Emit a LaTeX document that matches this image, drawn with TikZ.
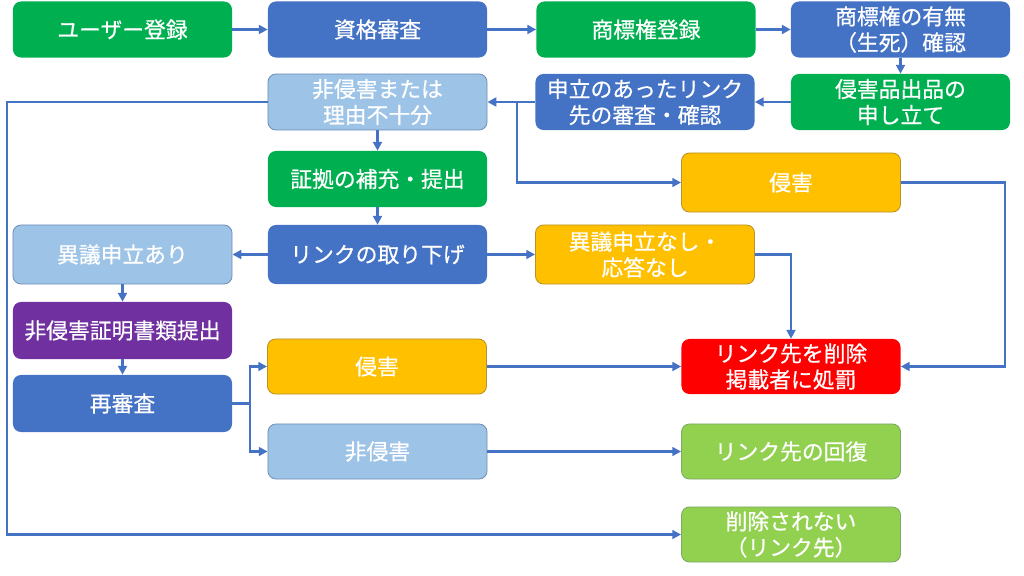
\documentclass[tikz,border=0pt]{standalone}
\usepackage{fontspec}
\newfontfamily\cjk[FakeBold=0.6]{Noto Sans CJK JP}
\usetikzlibrary{arrows.meta}
\definecolor{cgreen}{HTML}{00B050}
\definecolor{cblue}{HTML}{4472C4}
\definecolor{clblue}{HTML}{9DC3E6}
\definecolor{clbluebd}{HTML}{6F8FB8}
\definecolor{corange}{HTML}{FFC000}
\definecolor{corangebd}{HTML}{B8922A}
\definecolor{cred}{HTML}{FF0000}
\definecolor{cpurple}{HTML}{7030A0}
\definecolor{clgreen}{HTML}{92D050}
\definecolor{clgreenbd}{HTML}{7FA868}
\definecolor{cline}{HTML}{4472C4}
\tikzset{
  box/.style={rounded corners=0.2cm, minimum width=5.475cm, minimum height=1.4cm,
    text=white, align=center, inner sep=0pt,
    font=\cjk\fontsize{15.5}{18.5}\selectfont},
  gbox/.style={box, fill=cgreen},
  bbox/.style={box, fill=cblue},
  lbbox/.style={box, fill=clblue, draw=clbluebd, line width=0.6pt},
  obox/.style={box, fill=corange, draw=corangebd, line width=0.6pt},
  rbox/.style={box, fill=cred},
  pbox/.style={box, fill=cpurple},
  lgbox/.style={box, fill=clgreen, draw=clgreenbd, line width=0.6pt},
  conn/.style={draw=cline, line width=2.1pt},
  arr/.style={conn, -{Triangle[length=0.22cm, width=0.22cm]}},
}
\begin{document}
\begin{tikzpicture}[x=0.025cm, y=-0.025cm]
\useasboundingbox (0,0) rectangle (1024,576);
\node[gbox] (A) at (122.5,29.5) {ユーザー登録};
\node[bbox] (B) at (377.5,29.5) {資格審査};
\node[gbox] (C) at (646,29.5) {商標権登録};
\node[bbox] (D) at (900.5,29.5) {商標権の有無\\（生死）確認};
\node[lbbox] (E) at (377.5,102) {非侵害または\\理由不十分};
\node[bbox] (F) at (645,102) {申立のあったリンク\\先の審査・確認};
\node[gbox] (G) at (900.5,102) {侵害品出品の\\申し立て};
\node[gbox] (H) at (377.5,179) {証拠の補充・提出};
\node[obox, minimum height=1.475cm] (I) at (791,182.5) {侵害};
\node[lbbox, minimum height=1.475cm] (J) at (122.5,254.5) {異議申立あり};
\node[bbox, minimum height=1.475cm] (K) at (377.5,254.5) {リンクの取り下げ};
\node[obox, minimum height=1.475cm] (L) at (645,254.5) {異議申立なし・\\応答なし};
\node[pbox, minimum height=1.425cm] (M) at (122.5,330.5) {非侵害証明書類提出};
\node[obox, minimum height=1.375cm] (N) at (377,366.5) {侵害};
\node[rbox, minimum height=1.375cm] (O) at (791,366.5) {リンク先を削除\\掲載者に処罰};
\node[bbox, minimum height=1.425cm] (P) at (122.5,403.5) {再審査};
\node[lbbox, minimum height=1.375cm] (Q) at (377.5,451.5) {非侵害};
\node[lgbox, minimum height=1.375cm] (R) at (791,451.5) {リンク先の回復};
\node[lgbox, minimum height=1.375cm] (S) at (791,534.5) {削除されない\\（リンク先）};
% connectors
\draw[arr] (A) -- (B);
\draw[arr] (B) -- (C);
\draw[arr] (C) -- (D);
\draw[arr] (D) -- (G);
\draw[arr] (G) -- (F);
\draw[arr] (F) -- (E);
\coordinate (j1) at (517,102);
\draw[arr] (j1) |- (I.west);
\coordinate (lp) at (7,534.5);
\draw[arr] (E.west) -| (lp) -- (S.west);
\draw[arr] (E) -- (H);
\draw[arr] (H) -- (K);
\draw[arr] (K) -- (J);
\draw[arr] (K) -- (L);
\draw[arr] (L.east) -| (O.north);
\coordinate (ir) at (1005,182.5);
\draw[arr] (I.east) -- (ir) |- (O.east);
\draw[arr] (J) -- (M);
\draw[arr] (M) -- (P);
\coordinate (pb) at (250,403.5);
\draw[conn] (P.east) -- (pb);
\draw[arr] (pb) |- (N.west);
\draw[arr] (pb) |- (Q.west);
\draw[arr] (N) -- (O);
\draw[arr] (Q) -- (R);
\end{tikzpicture}
\end{document}
